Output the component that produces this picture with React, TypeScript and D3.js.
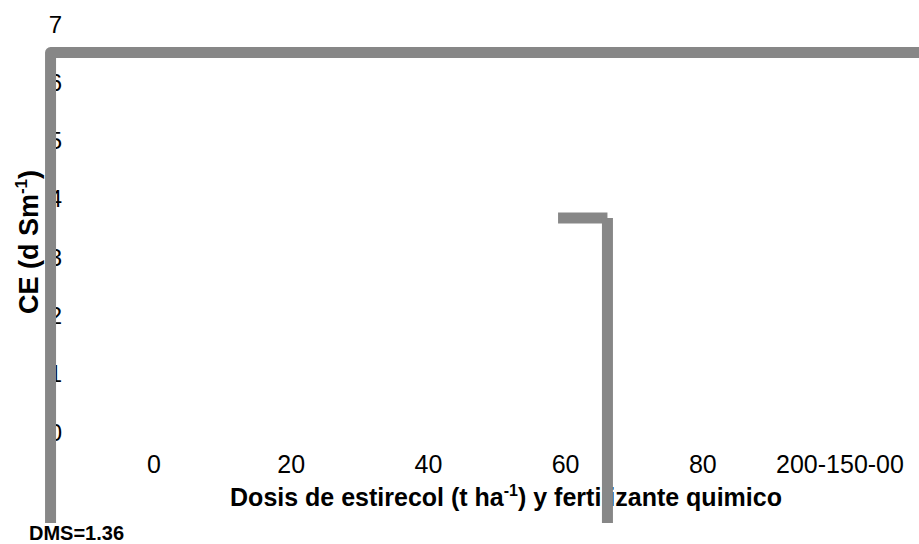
import React from "react";
import * as d3 from "d3";

const categories = ["0", "20", "40", "60", "80", "200-150-00"];
const yTicks = [0, 1, 2, 3, 4, 5, 6, 7];
// frame line (category-index units, CE units)
const frameX = [-0.754, -0.754, 5.7];
const frameY = [-1.56, 6.51, 6.51];
// DMS bar
const dmsCapX = [2.945, 3.305];
const dmsCapY = [3.67, 3.67];
const dmsStemX = [3.305, 3.305];
const dmsStemY = [3.67, -1.56];
const dmsLabel = "DMS=1.36";

const W = 919;
const H = 544;

export default function App() {
  const x = d3.scaleLinear().domain([0, 5]).range([154, 840]);
  const y = d3.scaleLinear().domain([0, 7]).range([432, 24]);
  const line = d3
    .line<[number, number]>()
    .x((d) => x(d[0]))
    .y((d) => y(d[1]));
  const frame = frameX.map((v, i) => [v, frameY[i]] as [number, number]);
  const cap = dmsCapX.map((v, i) => [v, dmsCapY[i]] as [number, number]);
  const stem = dmsStemX.map((v, i) => [v, dmsStemY[i]] as [number, number]);
  const font = "Liberation Sans, Arial, Helvetica, sans-serif";
  return (
    <svg
      width={W}
      height={H}
      style={{ position: "absolute", left: 0, top: 0, background: "#fff" }}
      fontFamily={font}
    >
      {yTicks.map((t) => (
        <text key={t} x={62} y={y(t)} dy="0.36em" textAnchor="end" fontSize={24} fill="#000">
          {t}
        </text>
      ))}
      {categories.map((c, i) => (
        <text key={c} x={x(i)} y={473} textAnchor="middle" fontSize={25} fill="#000">
          {c}
        </text>
      ))}
      <text x={506} y={506} textAnchor="middle" fontSize={25} fontWeight="bold" fill="#000">
        Dosis de estirecol (t ha
        <tspan fontSize={16} dy={-10}>-1</tspan>
        <tspan dy={10}>) y fertilizante quimico</tspan>
      </text>
      <text
        transform="translate(38,242) rotate(-90)"
        textAnchor="middle"
        fontSize={27}
        fontWeight="bold"
        fill="#000"
      >
        CE (d Sm
        <tspan fontSize={17} dy={-11}>-1</tspan>
        <tspan dy={11}>)</tspan>
      </text>
      <text x={29} y={540} fontSize={20} fontWeight="bold" fill="#000">
        {dmsLabel}
      </text>
      <path d={line(frame) || ""} fill="none" stroke="#878787" strokeWidth={11} strokeLinejoin="round" />
      <path d={line(cap) || ""} fill="none" stroke="#878787" strokeWidth={11} />
      <path d={line(stem) || ""} fill="none" stroke="#878787" strokeWidth={11} />
    </svg>
  );
}
